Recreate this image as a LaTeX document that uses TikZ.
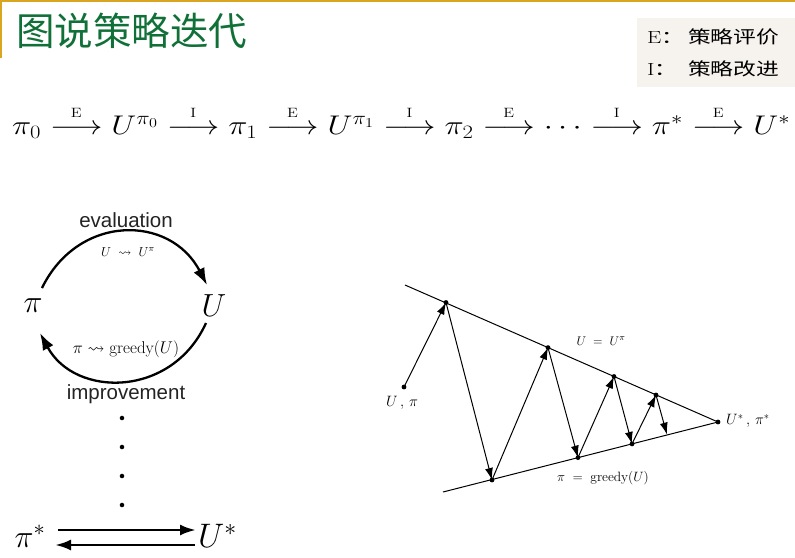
\RequirePackage{fix-cm}
\documentclass[tikz,border=0pt]{standalone}
\usepackage{amsmath,amssymb}
\usepackage{fontspec}
\usetikzlibrary{arrows.meta}
\newfontfamily\cjk{Noto Sans CJK SC}
\newfontfamily\helv{Liberation Sans}
\definecolor{goldline}{RGB}{218,165,32}
\definecolor{titlegreen}{RGB}{16,112,56}
\definecolor{legendbg}{RGB}{246,243,238}
\definecolor{sansgray}{RGB}{35,35,35}
\newcommand\myarE{\mathrel{\overset{\scriptscriptstyle\mathrm{E}\rule[-4pt]{0pt}{4pt}}{\longrightarrow}}}
\newcommand\myarI{\mathrel{\overset{\scriptscriptstyle\mathrm{I}\rule[-4pt]{0pt}{4pt}}{\longrightarrow}}}
\tikzset{
  zz/.style={-{Latex[length=12pt,width=8pt]}, line width=1pt},
  cyc/.style={-{Latex[length=17pt,width=12pt]}, line width=2.3pt},
  pt/.style={circle, fill, inner sep=1.7pt},
  bigmath/.style={font=\fontsize{32}{36}\selectfont, inner sep=0pt},
  smallmath/.style={font=\fontsize{13}{15}\selectfont, inner sep=0pt},
  sanslabel/.style={font=\helv\fontsize{20.5}{24}\selectfont, text=sansgray, inner sep=0pt},
  legtext/.style={anchor=west, inner sep=0pt, font=\fontsize{17.5}{20}\selectfont}
}
\begin{document}
\begin{tikzpicture}[x=1pt,y=-1pt]
\useasboundingbox (0,0) rectangle (795,557);
% frame lines
\draw[goldline, line width=1.5pt] (0,0.75) -- (795,0.75);
\draw[goldline, line width=1.5pt] (0.75,0) -- (0.75,58);
% title
\node[anchor=west, inner sep=0pt, text=titlegreen, font=\cjk\fontsize{38.5}{42}\selectfont] (title) at (16,31) {图说策略迭代};
% legend
\fill[legendbg] (637,18) rectangle (795,87);
\node[legtext] (legE) at (647,38) {\scalebox{1.3}[1]{E{\cjk ：}}};
\node[legtext] (legEt) at (688,37) {\scalebox{1.3}[1]{\cjk 策略评价}};
\node[legtext] (legI) at (647,70) {\scalebox{1.3}[1]{I{\cjk ：}}};
\node[legtext] (legIt) at (688,69) {\scalebox{1.3}[1]{\cjk 策略改进}};
% equation row
\node[anchor=base west, inner sep=0pt, font=\fontsize{27}{31}\selectfont] (eq) at (12,134) {\resizebox{778pt}{\height}{$\pi_0 \myarE U^{\pi_0} \myarI \pi_1 \myarE U^{\pi_1} \myarI \pi_2 \myarE \cdots \myarI \pi^* \myarE U^*$}};
% left cycle
\node[bigmath] (pi) at (33,306) {$\pi$};
\node[bigmath] (U) at (214,306) {$U$};
\coordinate (a1) at (42,288);
\coordinate (a2) at (207,285);
\coordinate (b1) at (206,323);
\coordinate (b2) at (40,333);
\draw[cyc] (a1) .. controls (78,214) and (170,214) .. (a2);
\draw[cyc] (b1) .. controls (172,398) and (75,398) .. (b2);
\node[sanslabel] (eval) at (126,220) {evaluation};
\node[smallmath] (ueq) at (128,252) {$U \;\rightsquigarrow\; U^{\pi}$};
\node[smallmath, font=\fontsize{17}{19}\selectfont] (peq) at (126,349) {$\pi \rightsquigarrow \mathrm{greedy}(U)$};
\node[sanslabel] (impr) at (126,394) {improvement};
\node[pt, inner sep=1.6pt] (d1) at (122,418) {};
\node[pt, inner sep=1.6pt] (d2) at (122,447) {};
\node[pt, inner sep=1.6pt] (d3) at (122,476) {};
\node[pt, inner sep=1.6pt] (d4) at (122,505) {};
\node[bigmath] (pis) at (30,536) {$\pi^*$};
\node[bigmath, anchor=west, font=\fontsize{34}{38}\selectfont] (Us) at (198,536) {$U^*$};
\coordinate (c1) at (58,530);
\coordinate (c2) at (196,530);
\coordinate (c3) at (195,545);
\coordinate (c4) at (55,545);
\draw[-{Latex[length=16pt,width=11pt]}, line width=2.8pt] (c1) -- (c2);
\draw[-{Latex[length=16pt,width=11pt]}, line width=2.8pt] (c3) -- (c4);
% right diagram
\coordinate (t0) at (405,285);
\coordinate (b0) at (443,492);
\node[pt] (apex) at (718,422) {};
\draw[line width=1pt] (t0) -- (apex.center);
\draw[line width=1pt] (b0) -- (apex.center);
\node[pt] (s) at (404,387) {};
\node[pt] (u1) at (446,302.5) {};
\node[pt] (p1) at (492,480) {};
\node[pt] (u2) at (548,347.6) {};
\node[pt] (p2) at (578,457.6) {};
\node[pt] (u3) at (614,376.5) {};
\node[pt] (p3) at (632,443.9) {};
\node[pt] (u4) at (656,395) {};
\coordinate (p4) at (667,434.6);
\draw[zz] (s.center) -- (u1.center);
\draw[zz] (u1.center) -- (p1.center);
\draw[zz] (p1.center) -- (u2.center);
\draw[zz] (u2.center) -- (p2.center);
\draw[zz] (p2.center) -- (u3.center);
\draw[zz] (u3.center) -- (p3.center);
\draw[zz] (p3.center) -- (u4.center);
\draw[zz] (u4.center) -- (p4);
\node[smallmath, font=\fontsize{15}{17}\selectfont] (slab) at (402,403) {$U\,,\,\pi$};
\node[smallmath, font=\fontsize{12.5}{14}\selectfont] (ulab) at (601,341) {$U \;=\; U^{\pi}$};
\node[smallmath, font=\fontsize{13.5}{15}\selectfont] (plab) at (603,478) {$\pi \;=\; \mathrm{greedy}(U)$};
\node[smallmath, font=\fontsize{15}{17}\selectfont, anchor=west] (alab) at (726,421) {$U^*\,,\,\pi^*$};
\end{tikzpicture}
\end{document}
